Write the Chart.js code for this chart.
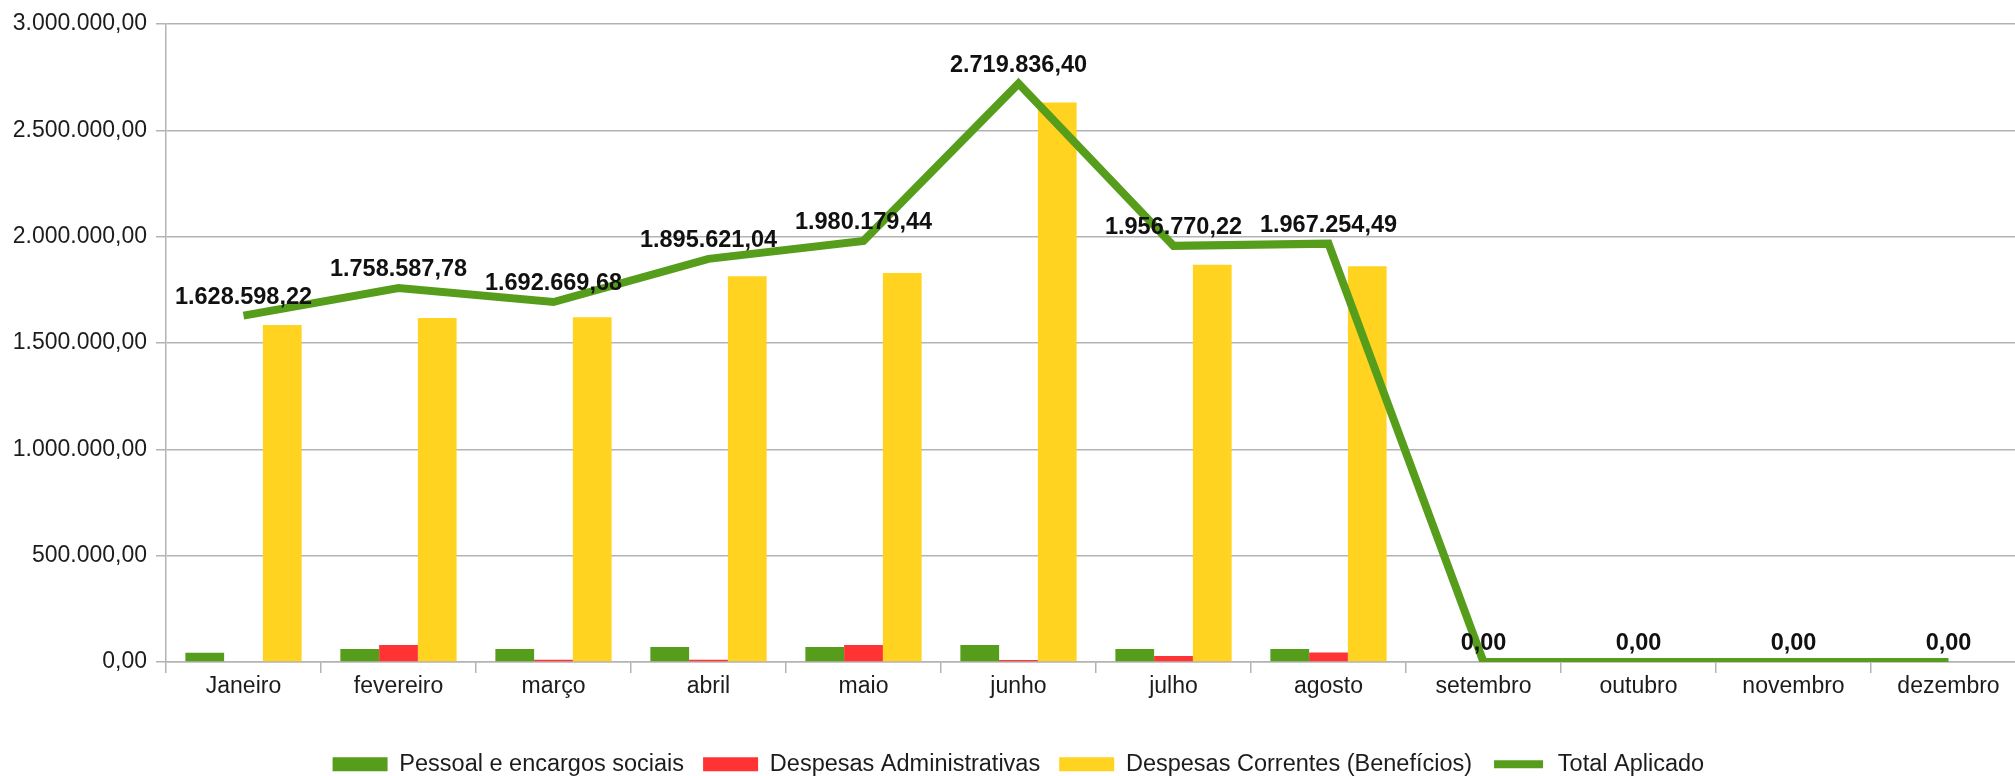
<!DOCTYPE html>
<html>
<head>
<meta charset="utf-8">
<script src="https://cdn.jsdelivr.net/npm/chart.js@4.4.1/dist/chart.umd.min.js"></script>
<style>
html, body { margin: 0; padding: 0; overflow: hidden; background: #ffffff; width: 2015px; height: 776px; }
canvas { display: block; }
</style>
</head>
<body>
<canvas id="c" width="2040" height="786"></canvas>
<script>
const categories = ['Janeiro', 'fevereiro', 'março', 'abril', 'maio', 'junho', 'julho', 'agosto', 'setembro', 'outubro', 'novembro', 'dezembro'];
const seriesNames = ['Pessoal e encargos sociais', 'Despesas Administrativas', 'Despesas Correntes (Benefícios)', 'Total Aplicado'];
const pessoal = [44000, 61000, 61000, 70500, 70500, 80000, 61000, 61000, 0, 0, 0, 0];
const administrativas = [0, 80000, 11000, 11000, 80000, 9000, 28000, 45000, 0, 0, 0, 0];
const correntes = [1584600, 1617600, 1620700, 1814100, 1829700, 2630800, 1867800, 1861000, 0, 0, 0, 0];
const totalAplicado = [1628598.22, 1758587.78, 1692669.68, 1895621.04, 1980179.44, 2719836.40, 1956770.22, 1967254.49, 0, 0, 0, 0];
const yTicks = [0, 500000, 1000000, 1500000, 2000000, 2500000, 3000000];

function fmtBR(v) {
  const neg = v < 0;
  v = Math.abs(v);
  let s = v.toFixed(2);
  let [ip, dp] = s.split('.');
  ip = ip.replace(/\B(?=(\d{3})+(?!\d))/g, '.');
  return (neg ? '-' : '') + ip + ',' + dp;
}

const FONT = "'Liberation Sans', Arial, sans-serif";
const GRID = '#b3b3b3';
const TEXT = '#1c1c1c';

const labelPlugin = {
  id: 'lineLabels',
  afterLayout(chart) {
    const lg = chart.legend;
    if (lg) { lg.left += 3.5; lg.right += 3.5; }
  },
  afterDatasetsDraw(chart) {
    const ctx = chart.ctx;
    chart.data.datasets.forEach((ds, i) => {
      if (ds.type !== 'line') return;
      const meta = chart.getDatasetMeta(i);
      ctx.save();
      ctx.font = 'bold 23.5px ' + FONT;
      ctx.fillStyle = '#111111';
      ctx.textAlign = 'center';
      ctx.textBaseline = 'alphabetic';
      meta.data.forEach((el, j) => {
        ctx.fillText(fmtBR(ds.data[j]), el.x, el.y - 12);
      });
      ctx.restore();
    });
  }
};

const chart = new Chart(document.getElementById('c'), {
  type: 'bar',
  data: {
    labels: categories,
    datasets: [
      { label: seriesNames[0], data: pessoal, backgroundColor: '#579d1c', order: 1 },
      { label: seriesNames[1], data: administrativas, backgroundColor: '#ff3333', order: 1 },
      { label: seriesNames[2], data: correntes, backgroundColor: '#ffd320', order: 1 },
      { type: 'line', label: seriesNames[3], data: totalAplicado, borderColor: '#579d1c', backgroundColor: '#579d1c',
        borderWidth: 8, pointRadius: 0, tension: 0, borderJoinStyle: 'miter', order: 0 }
    ]
  },
  options: {
    responsive: false,
    animation: false,
    devicePixelRatio: 1,
    datasets: { bar: { categoryPercentage: 0.75, barPercentage: 1.0 } },
    layout: { padding: { left: 3.7, right: 14, top: 24, bottom: 0 } },
    plugins: {
      tooltip: { enabled: false },
      legend: {
        position: 'bottom',
        labels: {
          font: { family: FONT, size: 23.5 },
          color: TEXT,
          boxWidth: 55,
          boxHeight: 14,
          padding: 19,
          sort: (a, b) => a.datasetIndex - b.datasetIndex,
          generateLabels(chart) {
            const items = Chart.defaults.plugins.legend.labels.generateLabels(chart);
            items.forEach(it => {
              const ds = chart.data.datasets[it.datasetIndex];
              if (ds.type === 'line') {
                it.fillStyle = '#579d1c';
                it.strokeStyle = '#ffffff';
                it.lineWidth = 6;
                it.lineDash = [];
              } else {
                it.lineWidth = 0;
              }
            });
            return items;
          }
        }
      }
    },
    scales: {
      x: {
        afterFit(scale) { scale.height += 32.9; },
        grid: { drawOnChartArea: false, drawTicks: true, tickLength: 11, color: GRID, lineWidth: 1.5 },
        border: { color: GRID, width: 1.5 },
        ticks: { font: { family: FONT, size: 23 }, color: TEXT, padding: 0, maxRotation: 0, autoSkip: false }
      },
      y: {
        min: 0,
        max: 3000000,
        afterBuildTicks(scale) { scale.ticks = yTicks.map(v => ({ value: v })); },
        grid: { color: GRID, lineWidth: 1.5, tickLength: 10, drawTicks: true },
        border: { color: GRID, width: 1.5 },
        ticks: { font: { family: FONT, size: 23 }, color: TEXT, padding: 9, callback: v => fmtBR(v) }
      }
    }
  },
  plugins: [labelPlugin]
});
</script>
</body>
</html>
